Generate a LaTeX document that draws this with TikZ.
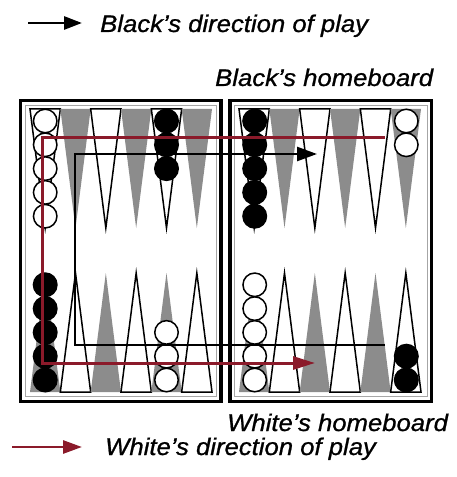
\documentclass[tikz,border=0pt]{standalone}
\usepackage{fontspec}
\setmainfont{Liberation Sans}
\newfontfamily\lblfont[FakeStretch=1.07,FakeBold=0.9]{Liberation Sans}
\usetikzlibrary{arrows.meta}
\definecolor{wred}{RGB}{139,26,42}
\definecolor{tgrey}{RGB}{140,140,140}
\tikzset{
  board/.style={draw=black, line width=3.8bp},
  innerline/.style={draw=black!35, line width=0.8bp},
  whitetri/.style={draw=black, fill=white, line width=1.5bp, line join=miter},
  greytri/.style={fill=tgrey},
  wchk/.style={circle, draw=black, fill=white, line width=1.5bp, minimum size=23.5bp, inner sep=0pt},
  bchk/.style={circle, draw=black, fill=black, line width=1.5bp, minimum size=23.5bp, inner sep=0pt},
  blackarrow/.style={draw=black, line width=2.6bp, line join=miter, -{Triangle[length=20bp,width=14bp]}},
  redarrow/.style={draw=wred, line width=3bp, line join=miter, -{Triangle[length=22bp,width=13bp]}},
  lbl/.style={font=\lblfont\itshape\fontsize{24bp}{28bp}\selectfont, inner sep=0pt, anchor=base west}
}
\begin{document}
\begin{tikzpicture}[x=1bp,y=-1bp]
\useasboundingbox[fill=white] (0,0) rectangle (457,477);
% boards
\draw[board] (20.5,100.5) rectangle (221,401.5);
\draw[board] (230,100.5) rectangle (431.5,401.5);
\draw[innerline] (25.5,105.5) rectangle (216,396);
\draw[innerline] (234.5,105.5) rectangle (427,396);
% triangles
\foreach \bx in {30,239}{
  \foreach \i in {0,...,5}{
    \pgfmathsetmacro\xl{\bx+\i*30.333}
    \pgfmathsetmacro\xr{\xl+30.333}
    \pgfmathsetmacro\xm{\xl+15.167}
    \pgfmathparse{int(mod(\i,2))}
    \ifnum\pgfmathresult=0
      \path[whitetri] (\xl,109) -- (\xr,109) -- (\xm,228) -- cycle;
      \path[greytri] (\xl,392) -- (\xr,392) -- (\xm,273) -- cycle;
    \else
      \path[greytri] (\xl,109) -- (\xr,109) -- (\xm,228) -- cycle;
      \path[whitetri] (\xl,392) -- (\xr,392) -- (\xm,273) -- cycle;
    \fi
  }
}
% checkers
\foreach \k in {0,...,4}{
  \node[wchk] (tlw\k) at (45.2,{121+23.8*\k}) {};
  \node[bchk] (trb\k) at (254.7,{121+23.8*\k}) {};
  \node[bchk] (blb\k) at (45.2,{380-23.8*\k}) {};
  \node[wchk] (brw\k) at (254.7,{380-23.8*\k}) {};
}
\foreach \k in {0,...,2}{
  \node[bchk] (tlb\k) at (166.5,{121+23.8*\k}) {};
  \node[wchk] (blw\k) at (166.5,{380-23.8*\k}) {};
}
\foreach \k in {0,1}{
  \node[wchk] (trw\k) at (406.3,{121+23.8*\k}) {};
  \node[bchk] (brb\k) at (406.3,{380-23.8*\k}) {};
}
% direction paths
\coordinate (b0) at (385,345);
\coordinate (b1) at (75,345);
\coordinate (b2) at (75,154);
\coordinate (b3) at (317,154);
\draw[blackarrow] (b0) -- (b1) -- (b2) -- (b3);
\coordinate (r0) at (385,138);
\coordinate (r1) at (42,138);
\coordinate (r2) at (42,363);
\coordinate (r3) at (315,363);
\draw[redarrow] (r0) -- (r1) -- (r2) -- (r3);
% legend
\coordinate (lb0) at (28,23);
\coordinate (lb1) at (82,23);
\draw[draw=black, line width=2.8bp, -{Triangle[length=18bp,width=13bp]}] (lb0) -- (lb1);
\coordinate (lr0) at (12,447);
\coordinate (lr1) at (82,447);
\draw[draw=wred, line width=2.8bp, -{Triangle[length=19bp,width=13bp]}] (lr0) -- (lr1);
\node[lbl] (tblack) at (100,32) {Black’s direction of play};
\node[lbl] (tbhome) at (215,86) {Black’s homeboard};
\node[lbl] (twhome) at (227,431) {White’s homeboard};
\node[lbl] (twhite) at (105,455) {White’s direction of play};
\end{tikzpicture}
\end{document}
